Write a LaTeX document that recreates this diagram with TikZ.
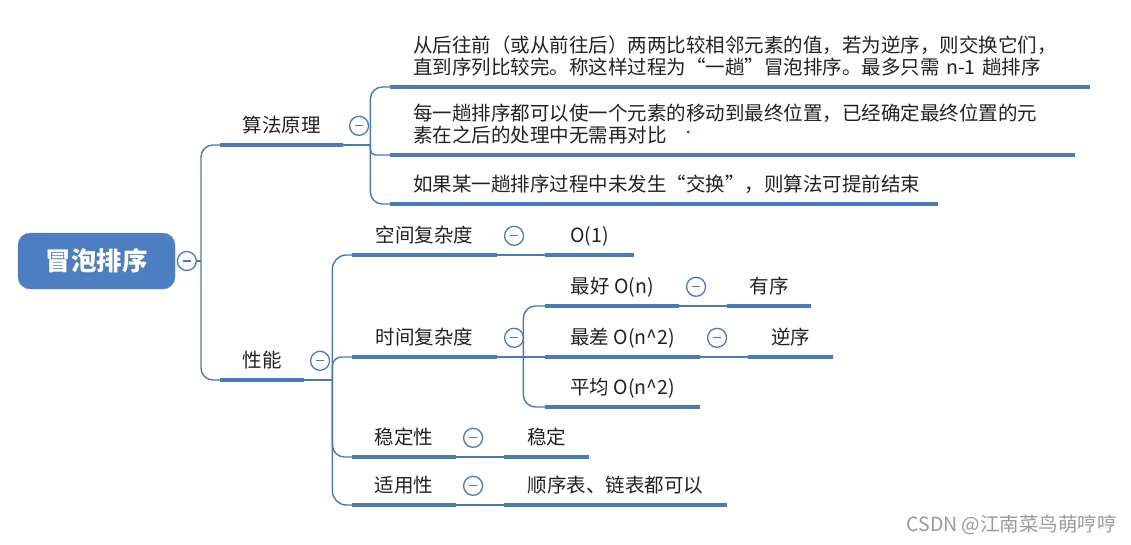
\documentclass[tikz,border=0pt]{standalone}
\usepackage{fontspec}
\setmainfont{Noto Sans CJK SC}
\usepackage{tikz}
\usetikzlibrary{positioning}
\definecolor{mmblue}{HTML}{4A7AB8}
\definecolor{mmroot}{HTML}{4D7EC1}
\definecolor{mmtext}{HTML}{222222}
\definecolor{mmmark}{HTML}{9A9A9A}

\begin{document}
\begin{tikzpicture}[x=1pt, y=-1pt,
  root/.style={rounded corners=12pt, fill=mmroot, draw=mmroot!85!white, minimum width=157pt, minimum height=56pt, text=white, font=\fontsize{25.5}{28}\selectfont\bfseries},
  topic/.style={anchor=south west, inner xsep=0pt, inner ysep=9pt, text height=17pt, text depth=3pt, text=mmtext, font=\fontsize{19.5}{22.5}\selectfont},
  para/.style={anchor=south west, inner xsep=23pt, inner ysep=9pt, align=left, text=mmtext, font=\fontsize{19.5}{22.5}\selectfont},
  uline/.style={draw=mmblue, line width=4pt},
  link/.style={draw=mmblue, line width=1.4pt, rounded corners=12pt},
  fold/.style={circle, draw=mmblue, line width=1.3pt, fill=white, minimum size=19pt, inner sep=0pt,
    path picture={\draw[mmblue, line width=1.2pt] ([xshift=-4pt]path picture bounding box.center) -- ([xshift=4pt]path picture bounding box.center);}},
  wmark/.style={anchor=west, text=mmmark, font=\fontsize{19.5}{22}\selectfont},
  ]
  \useasboundingbox (0,0) rectangle (1131,544);
  \fill[white] (0,0) rectangle (1131,544);

  % root
  \node[root] (bubble) at (96.5,261) {冒泡排序};
  \node[fold, right=1.5pt of bubble] (bubble-f) {};
  \coordinate (trunk) at (201,261);

  % principle
  \node[topic, minimum width=123pt] (algo) at (220,145) {算法原理};
  \node[fold, right=5.5pt of algo] (algo-f) {};
  \node[para, text width=654pt, text depth=25.5pt] (k1) at (390,87) {从后往前（或从前往后）两两比较相邻元素的值，若为逆序，则交换它们，\\直到序列比较完。称这样过程为“一趟”冒泡排序。最多只需 n-1 趟排序};
  \node[para, text width=639pt, text depth=25.5pt] (k2) at (390,155) {每一趟排序都可以使一个元素的移动到最终位置，已经确定最终位置的元\\素在之后的处理中无需再对比};
  \node[para, text width=502pt, text depth=3pt] (k3) at (390,204) {如果某一趟排序过程中未发生“交换”，则算法可提前结束};
  \fill[red!85!black] (688,132) circle (1.5pt);

  % performance
  \node[topic, minimum width=84pt] (perf) at (220,380) {性能};
  \node[fold, right=5.5pt of perf] (perf-f) {};
  \node[topic, minimum width=145pt] (space) at (352,255) {空间复杂度};
  \node[fold, right=6.5pt of space] (space-f) {};
  \node[topic, minimum width=89pt] (o1) at (545,255) {O(1)};
  \node[topic, minimum width=145pt] (time) at (352,357) {时间复杂度};
  \node[fold, right=6.5pt of time] (time-f) {};
  \node[topic, minimum width=134pt] (best) at (545,306) {最好 O(n)};
  \node[fold, right=6.5pt of best] (best-f) {};
  \node[topic, minimum width=84pt] (ordered) at (727,306) {有序};
  \node[topic, minimum width=155pt] (worst) at (545,357) {最差 O(n\textasciicircum 2)};
  \node[fold, right=6.5pt of worst] (worst-f) {};
  \node[topic, minimum width=85pt] (reverse) at (748,357) {逆序};
  \node[topic, minimum width=155pt] (avg) at (545,407) {平均 O(n\textasciicircum 2)};
  \node[topic, minimum width=104pt] (stable) at (352,457) {稳定性};
  \node[fold, right=6.5pt of stable] (stable-f) {};
  \node[topic, minimum width=85pt] (stab-v) at (504,457) {稳定};
  \node[topic, minimum width=104pt] (use) at (352,505) {适用性};
  \node[fold, right=6.5pt of use] (use-f) {};
  \node[topic, minimum width=223pt] (use-v) at (504,505) {顺序表、链表都可以};

  \coordinate (algo-k) at ([xshift=27pt]algo.south east);
  \coordinate (perf-k) at ([xshift=28pt]perf.south east);
  \coordinate (time-k) at ([xshift=26pt]time.south east);

  % connectors
  \draw[link] (bubble-f) -- (trunk);
  \draw[link] (algo.south west) -| (trunk) |- (perf.south west);
  \draw[link] (algo.south east) -- (algo-k);
  \draw[link] (k1.south west) -| (algo-k) |- (k3.south west);
  \draw[link, rounded corners=5pt] (algo-k) |- (k2.south west);
  \draw[link, rounded corners=14pt] (space.south west) -| (perf-k) |- (use.south west);
  \draw[link] (perf.south east) -- (perf-k);
  \draw[link, rounded corners=9pt] (perf-k) |- (time.south west);
  \draw[link] (perf-k) |- (stable.south west);
  \draw[link] (best.south west) -| (time-k) |- (avg.south west);
  \draw[link] (time.south east) -- (worst.south west);
  \draw[link] (space.south east) -- (o1.south west);
  \draw[link] (best.south east) -- (ordered.south west);
  \draw[link] (worst.south east) -- (reverse.south west);
  \draw[link] (stable.south east) -- (stab-v.south west);
  \draw[link] (use.south east) -- (use-v.south west);
  \foreach \n in {algo,perf,k1,k2,k3,space,o1,time,best,ordered,worst,reverse,avg,stable,stab-v,use,use-v}
    \draw[uline] (\n.south west) -- (\n.south east);

  \node[wmark] (csdn) at (903,525) {CSDN @江南菜鸟萌哼哼};
\end{tikzpicture}
\end{document}
